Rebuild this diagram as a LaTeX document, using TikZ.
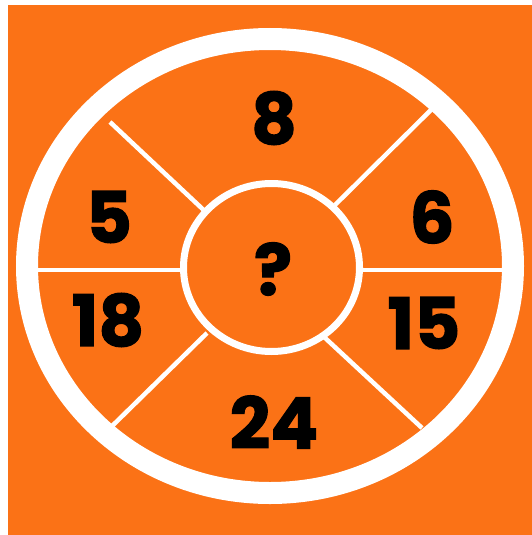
\documentclass[tikz,border=0pt]{standalone}
\usepackage{fontspec}
\setmainfont{Poppins}[BoldFeatures={FakeBold=1.6}]
\definecolor{bgorange}{HTML}{FB7216}
\tikzset{
  divider/.style={draw=white, line width=4.5pt},
  num/.style={font=\fontsize{71}{71}\selectfont\bfseries, text=black, inner sep=0pt, anchor=center}
}
\begin{document}
\begin{tikzpicture}[x=1pt,y=-1pt]
\useasboundingbox (0,0) rectangle (532,535);
\fill[white] (0,0) rectangle (532,535);
\fill[bgorange] (8,5) rectangle (532,535);
% named points
\coordinate (hl1) at (36,270); \coordinate (hl2) at (186,270);
\coordinate (hr1) at (358,270); \coordinate (hr2) at (510,270);
\coordinate (ul1) at (110,122); \coordinate (ul2) at (210,216);
\coordinate (ur1) at (442,99);  \coordinate (ur2) at (335,205);
\coordinate (ll1) at (107,431); \coordinate (ll2) at (207,333);
\coordinate (lr1) at (422,428); \coordinate (lr2) at (323,336);
\draw[divider] (hl1) -- (hl2);
\draw[divider] (hr1) -- (hr2);
\draw[divider] (ul1) -- (ul2);
\draw[divider] (ur1) -- (ur2);
\draw[divider] (ll1) -- (ll2);
\draw[divider] (lr1) -- (lr2);
% outer ring
\draw[white, line width=22pt] (270,266) ellipse [x radius=243, y radius=227];
% inner circle
\draw[white, fill=bgorange, line width=7pt] (271.5,267.5) ellipse [x radius=88, y radius=84];
% numbers
\node[num] (n8) at (274,118) {8};
\node[num] (n5) at (109,217) {5};
\node[num] (n6) at (432,217) {6};
\node[num] (n18) at (108,320) {18};
\node[num] (n15) at (424,323) {15};
\node[num] (n24) at (274,422) {24};
\node[num] (q) at (273,269) {?};
\end{tikzpicture}
\end{document}
